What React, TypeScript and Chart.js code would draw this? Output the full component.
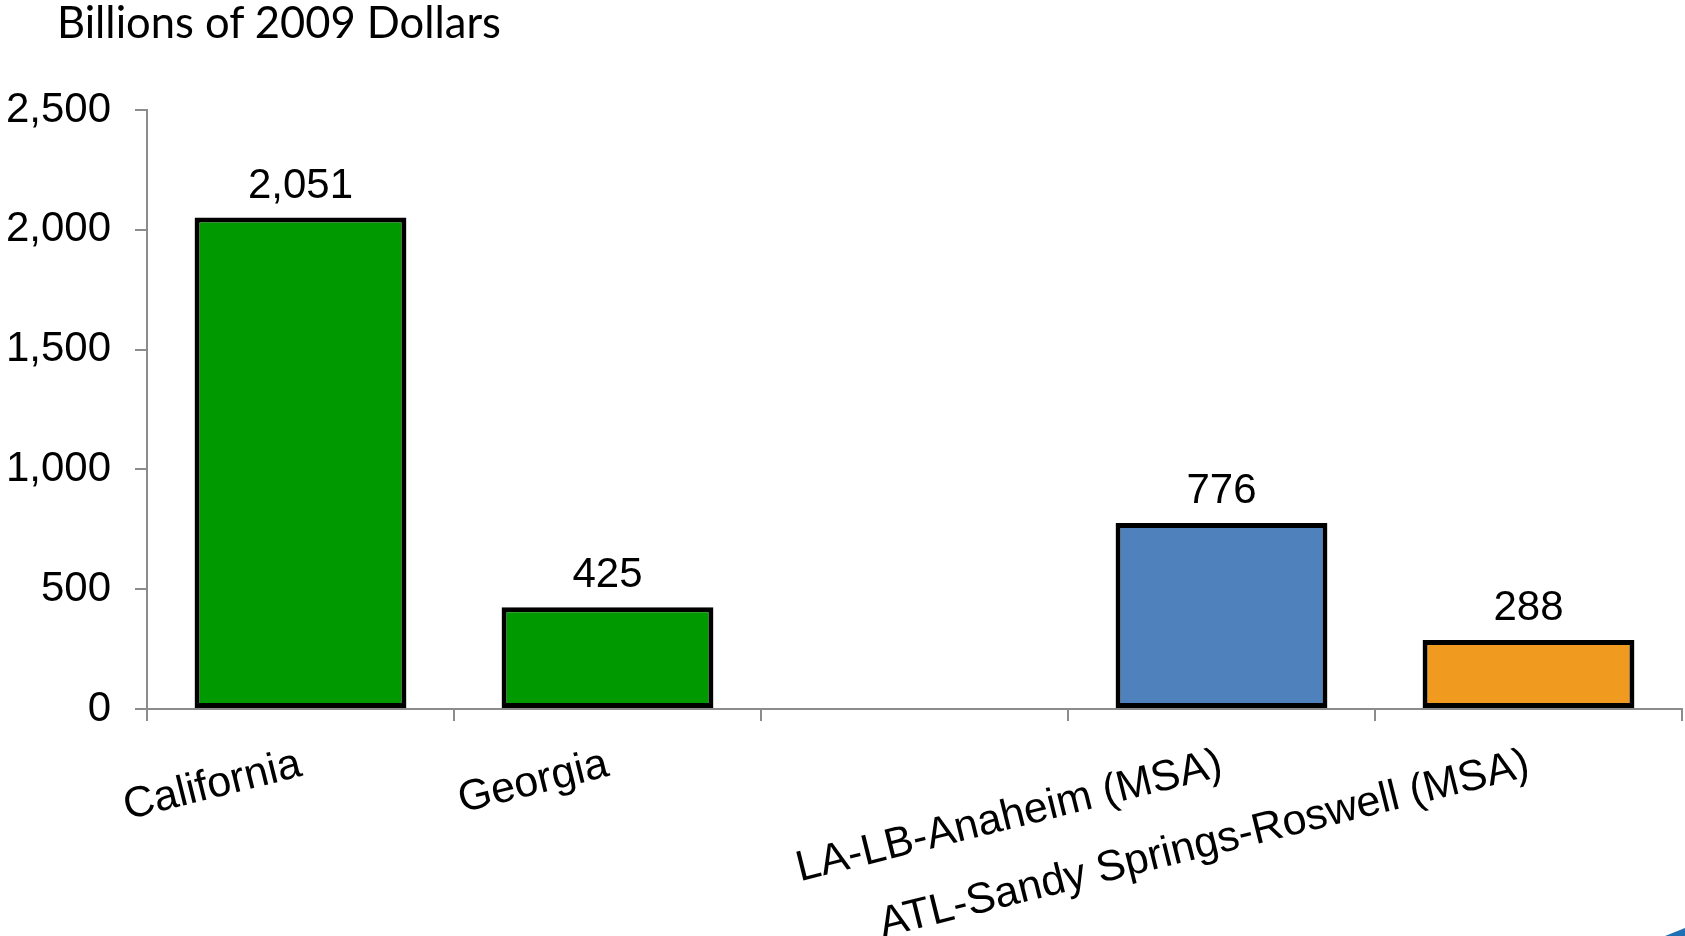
import React, { useEffect, useRef } from "react";
import { Chart, registerables } from "chart.js";

Chart.register(...registerables);

const categories = ["California", "Georgia", "", "LA-LB-Anaheim (MSA)", "ATL-Sandy Springs-Roswell (MSA)"];
const values: (number | null)[] = [2051, 425, null, 776, 288];
const valueLabels = ["2,051", "425", "", "776", "288"];
const barColors = ["#009900", "#009900", "#009900", "#4F81BD", "#F09B20"];
const yMin = 0;
const yMax = 2500;
const yStep = 500;
const unitTitle = "Billions of 2009 Dollars";

const W = 1685;
const H = 936;

const valueLabelPlugin = {
  id: "valueLabels",
  afterDatasetsDraw(chart: any) {
    const ctx = chart.ctx;
    const meta = chart.getDatasetMeta(0);
    ctx.save();
    ctx.font = "42px 'Liberation Sans', Arial, sans-serif";
    ctx.fillStyle = "#000000";
    ctx.textAlign = "center";
    ctx.textBaseline = "alphabetic";
    meta.data.forEach((el: any, i: number) => {
      if (values[i] == null) return;
      ctx.fillText(valueLabels[i], el.x, el.y - 20);
    });
    ctx.restore();
  },
};

export default function App() {
  const ref = useRef<HTMLCanvasElement | null>(null);

  useEffect(() => {
    document.body.style.margin = "0";
    const canvas = ref.current;
    if (!canvas) return;
    const chart = new Chart(canvas, {
      type: "bar",
      data: {
        labels: categories,
        datasets: [
          {
            data: values,
            backgroundColor: barColors,
            borderColor: "#000000",
            borderWidth: 5,
            borderSkipped: false,
            barPercentage: 0.69,
            categoryPercentage: 1,
          },
        ],
      },
      options: {
        responsive: false,
        animation: false,
        devicePixelRatio: 1,
        layout: { padding: { top: 110, right: 3, bottom: 0, left: 0 } },
        plugins: {
          legend: { display: false },
          tooltip: { enabled: false },
          title: { display: false },
        },
        scales: {
          x: {
            grid: {
              drawOnChartArea: false,
              drawTicks: true,
              tickLength: 12,
              color: "#8C8C8C",
              lineWidth: 2,
              offset: true,
            },
            border: { display: true, color: "#8C8C8C", width: 2 },
            ticks: {
              autoSkip: false,
              minRotation: 14,
              maxRotation: 14,
              padding: 18,
              color: "#000000",
              font: { family: "'Liberation Sans', Arial, sans-serif", size: 43 },
            },
            afterFit(scale: any) {
              scale.height = H - 709;
            },
          },
          y: {
            min: yMin,
            max: yMax,
            grid: {
              drawOnChartArea: false,
              drawTicks: true,
              tickLength: 12,
              color: "#8C8C8C",
              lineWidth: 2,
            },
            border: { display: true, color: "#8C8C8C", width: 2 },
            ticks: {
              stepSize: yStep,
              padding: 24,
              color: "#000000",
              font: { family: "'Liberation Sans', Arial, sans-serif", size: 42 },
              callback: (v: any) => Number(v).toLocaleString("en-US"),
            },
            afterFit(scale: any) {
              scale.width = 147;
            },
          },
        },
      },
      plugins: [valueLabelPlugin],
    });
    return () => chart.destroy();
  }, []);

  return (
    <div style={{ position: "fixed", left: 0, top: 0, width: W, height: H, background: "#ffffff", overflow: "hidden" }}>
      <canvas ref={ref} width={W} height={H} style={{ position: "absolute", left: 0, top: 0, width: W, height: H }} />
      <div
        style={{
          position: "absolute",
          left: 57,
          top: -6,
          fontFamily: "Lato, 'Open Sans', sans-serif",
          fontSize: 43.5,
          lineHeight: "54px",
          color: "#000000",
          whiteSpace: "nowrap",
        }}
      >
        {unitTitle}
      </div>
      <div
        style={{
          position: "absolute",
          left: 1665,
          top: 926,
          width: 20,
          height: 10,
          background: "#1F6FB5",
          clipPath: "polygon(0% 100%, 100% 20%, 100% 100%)",
        }}
      />
    </div>
  );
}
